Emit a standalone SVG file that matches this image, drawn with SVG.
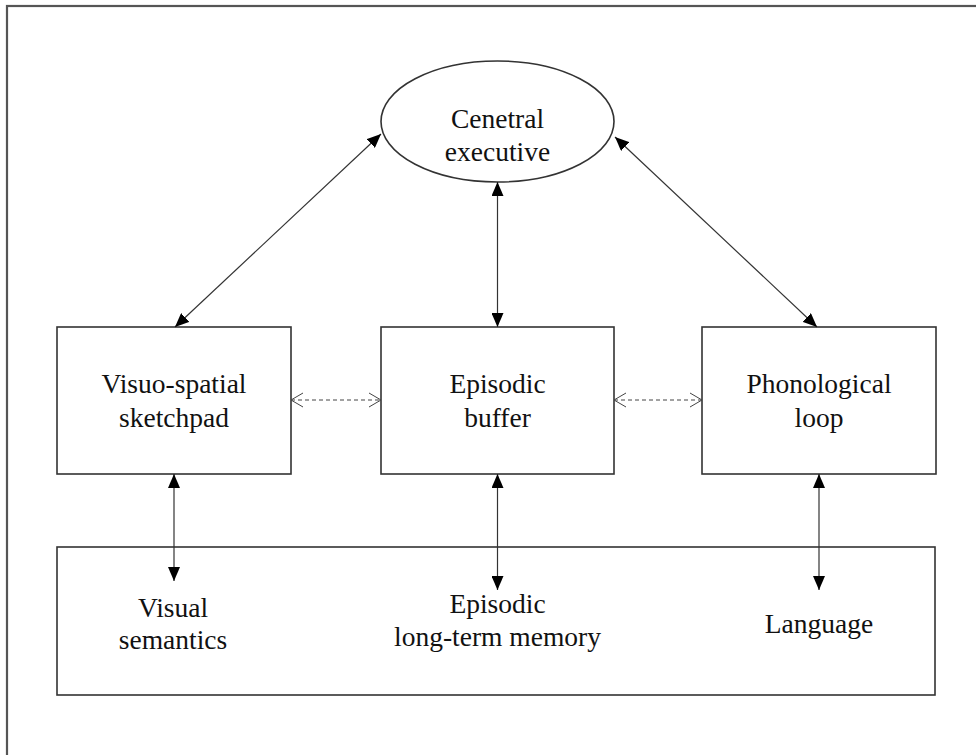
<svg xmlns="http://www.w3.org/2000/svg" width="976" height="755" viewBox="0 0 976 755">
<style>
.box{fill:#fff;stroke:#333;stroke-width:1.6}
.t{font-family:"Liberation Serif","Times New Roman",serif;font-size:27.5px;fill:#111;text-anchor:middle}
.c{stroke:#333;stroke-width:1.2;fill:none}
.d{stroke:#444;stroke-width:1;fill:none;stroke-dasharray:4 3}
</style>
<defs>
<marker id="ah" viewBox="0 0 14 12" refX="14" refY="6" markerWidth="14" markerHeight="12" markerUnits="userSpaceOnUse" orient="auto-start-reverse">
<path d="M0,0 L14,6 L0,12 Z" fill="#000"/>
</marker>
<marker id="oh" viewBox="0 0 14 16" refX="13" refY="8" markerWidth="14" markerHeight="16" markerUnits="userSpaceOnUse" orient="auto-start-reverse">
<path d="M1,1 L13,8 L1,15" fill="none" stroke="#444" stroke-width="1"/>
</marker>
</defs>
<rect width="976" height="755" fill="#fff"/>
<rect x="7" y="6" width="1100" height="1100" fill="none" stroke="#555" stroke-width="2.2"/>
<g id="frame-bottom">
<rect class="box" x="57" y="547" width="878" height="148"/>
</g>
<g id="central-executive">
<ellipse class="box" cx="497.5" cy="121.5" rx="116.5" ry="60.5"/>
<text class="t" x="497.5" y="128">Cenetral</text>
<text class="t" x="497.5" y="161">executive</text>
</g>
<g id="visuo-spatial">
<rect class="box" x="57" y="327" width="234" height="147"/>
<text class="t" x="174" y="393">Visuo-spatial</text>
<text class="t" x="174" y="427">sketchpad</text>
</g>
<g id="episodic-buffer">
<rect class="box" x="381" y="327" width="233" height="147"/>
<text class="t" x="497.5" y="393">Episodic</text>
<text class="t" x="497.5" y="427">buffer</text>
</g>
<g id="phonological-loop">
<rect class="box" x="702" y="327" width="234" height="147"/>
<text class="t" x="819" y="393">Phonological</text>
<text class="t" x="819" y="427">loop</text>
</g>
<g id="visual-semantics">
<text class="t" x="173" y="617">Visual</text>
<text class="t" x="173" y="649">semantics</text>
</g>
<g id="episodic-ltm">
<text class="t" x="497.5" y="613">Episodic</text>
<text class="t" x="497.5" y="646">long-term memory</text>
</g>
<g id="language">
<text class="t" x="819" y="633">Language</text>
</g>
<g id="connectors">
<line class="c" x1="175" y1="327" x2="381" y2="134" marker-start="url(#ah)" marker-end="url(#ah)"/>
<line class="c" x1="817" y1="327" x2="615" y2="137" marker-start="url(#ah)" marker-end="url(#ah)"/>
<line class="c" x1="497.5" y1="182" x2="497.5" y2="327" marker-start="url(#ah)" marker-end="url(#ah)"/>
<line class="c" x1="174" y1="474" x2="174" y2="581" marker-start="url(#ah)" marker-end="url(#ah)"/>
<line class="c" x1="497.5" y1="474" x2="497.5" y2="590" marker-start="url(#ah)" marker-end="url(#ah)"/>
<line class="c" x1="819" y1="474" x2="819" y2="590" marker-start="url(#ah)" marker-end="url(#ah)"/>
<line class="d" x1="291" y1="400" x2="381" y2="400" marker-start="url(#oh)" marker-end="url(#oh)"/>
<line class="d" x1="614" y1="400" x2="702" y2="400" marker-start="url(#oh)" marker-end="url(#oh)"/>
</g>
</svg>
